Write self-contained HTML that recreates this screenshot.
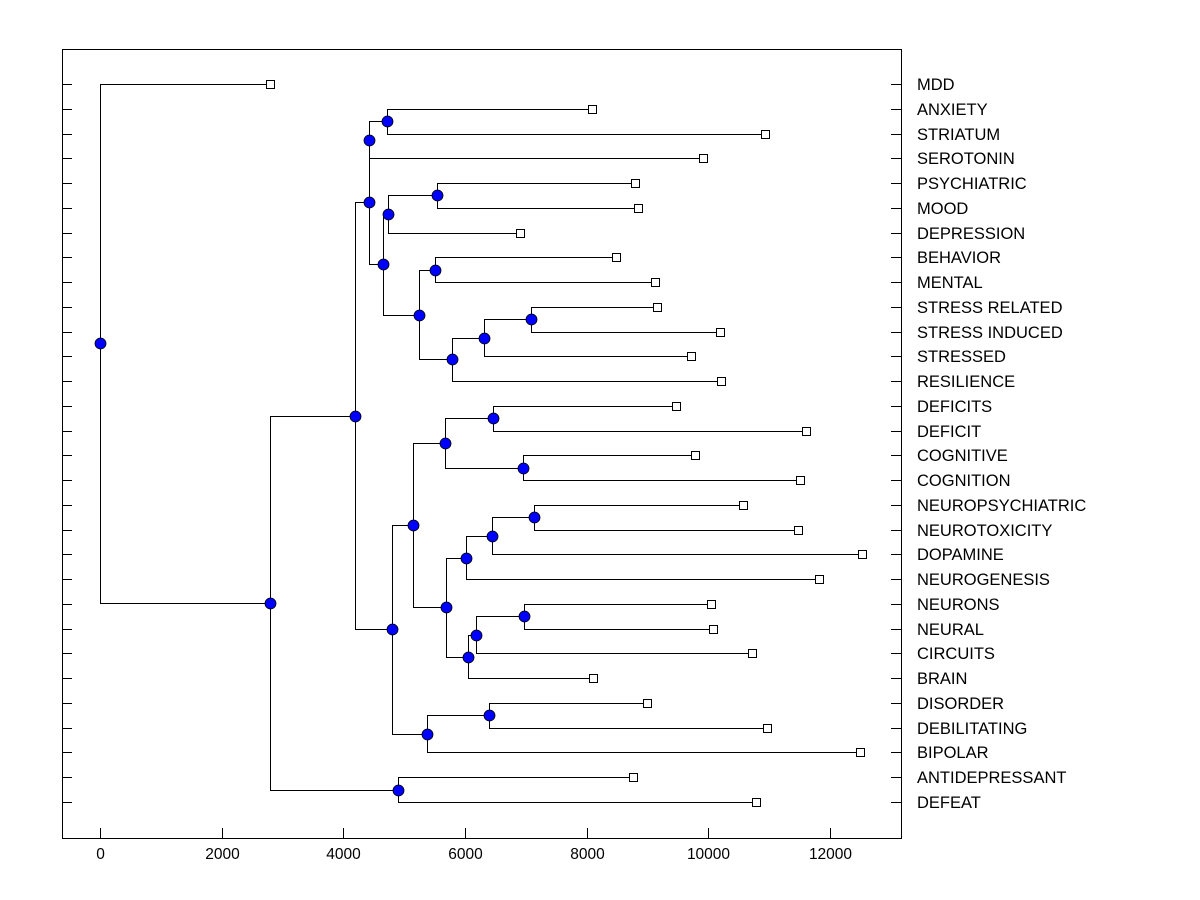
<!DOCTYPE html>
<html><head><meta charset="utf-8"><style>
html,body{margin:0;padding:0;background:#fff;}
svg{display:block;font-family:"Liberation Sans",Arial,sans-serif;}
</style></head><body>
<svg id="chart" width="1200" height="900"></svg>
<script>
const leafNames=["MDD","ANXIETY","STRIATUM","SEROTONIN","PSYCHIATRIC","MOOD","DEPRESSION","BEHAVIOR","MENTAL","STRESS RELATED","STRESS INDUCED","STRESSED","RESILIENCE","DEFICITS","DEFICIT","COGNITIVE","COGNITION","NEUROPSYCHIATRIC","NEUROTOXICITY","DOPAMINE","NEUROGENESIS","NEURONS","NEURAL","CIRCUITS","BRAIN","DISORDER","DEBILITATING","BIPOLAR","ANTIDEPRESSANT","DEFEAT"];
const leafHeights=[2795,8088,10932,9913,8795,8845,6904,8483,9124,9157,10193,9716,10209,9469,11606,9781,11507,10571,11474,12526,11820,10045,10077,10719,8104,8992,10965,12494,8762,10784];
const mergeLeft=[1,30,4,32,7,9,35,36,34,33,31,13,15,41,17,44,45,21,47,48,46,43,25,52,51,40,28,55,0];
const mergeRight=[2,3,5,6,8,10,11,12,37,38,39,14,16,42,18,19,20,22,23,24,49,50,26,27,53,54,29,56,57];
const mergeHeights=[4718,4422,5540,4734,5507,7085,6313,5787,5244,4652,4430,6461,6954,5672,7135,6444,6017,6970,6181,6050,5688,5145,6395,5376,4800,4192,4899,2795,0];
const xTicks=[0,2000,4000,6000,8000,10000,12000];

const NS="http://www.w3.org/2000/svg";
const svg=document.getElementById('chart');
const L=62,R=901,T=49,B=838;
const xScale=v=>100+v*(730/12000);
const yRow=i=>84+i*(802-84)/29;
function mk(tag,attrs,parent){const e=document.createElementNS(NS,tag);for(const k in attrs)e.setAttribute(k,attrs[k]);(parent||svg).appendChild(e);return e;}

const frame=mk('rect',{x:L+0.5,y:T+0.5,width:R-L,height:B-T,fill:'none',stroke:'#000','stroke-width':1});



const n=leafNames.length;
const nodeX=[],nodeY=[];
for(let i=0;i<n;i++){nodeX.push(xScale(leafHeights[i]));nodeY.push(yRow(i));}
for(let k=0;k<mergeHeights.length;k++){
  nodeX.push(xScale(mergeHeights[k]));
  nodeY.push((nodeY[mergeLeft[k]]+nodeY[mergeRight[k]])/2);
}
const links=mk('g',{stroke:'#000','stroke-width':1,fill:'none'});


for(let k=0;k<mergeHeights.length;k++){
  const id=n+k,x=Math.round(nodeX[id])+0.5;
  const a=mergeLeft[k],b=mergeRight[k];
  const ya=Math.round(nodeY[a])+0.5,yb=Math.round(nodeY[b])+0.5;
  const p=mk('path',{d:`M${Math.round(nodeX[a])} ${ya}H${x}V${yb}H${Math.round(nodeX[b])}`},links);
  
  
}
for(let k=0;k<mergeHeights.length;k++){
  const id=n+k;
  const c=mk('circle',{cx:Math.round(nodeX[id])+0.5,cy:Math.round(nodeY[id])+0.5,r:5.5,fill:'#0000ff',stroke:'#000','stroke-width':0.8});
  
  
}
for(let i=0;i<n;i++){
  const x=Math.round(nodeX[i]),y=Math.round(nodeY[i]);
  const s=mk('rect',{x:x-3.5,y:y-3.5,width:8,height:8,fill:'#fff',stroke:'#000','stroke-width':1});
  
  
  const lt=mk('line',{x1:L,x2:L+10,y1:y+0.5,y2:y+0.5,stroke:'#000'});
  
  
  const rt=mk('line',{x1:R-10,x2:R,y1:y+0.5,y2:y+0.5,stroke:'#000'});
  
  
  const t=mk('text',{x:917,y:y+6,'font-size':16.5,fill:'#000'});
  t.textContent=leafNames[i];
  
  
}
xTicks.forEach(v=>{
  const x=Math.round(xScale(v))+0.5;
  const l=mk('line',{x1:x,x2:x,y1:B-10,y2:B,stroke:'#000'});
  
  
  const t=mk('text',{x:x,y:859,'font-size':15.5,'text-anchor':'middle',fill:'#000'});
  t.textContent=v;
  
  
});
</script>
</body></html>
